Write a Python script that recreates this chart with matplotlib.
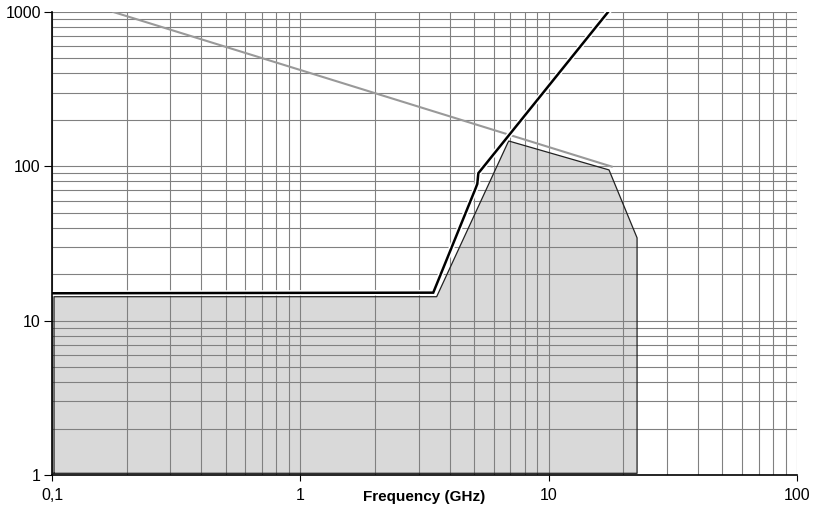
import matplotlib.pyplot as plt
import matplotlib.patheffects as pe
from matplotlib.ticker import LogLocator, NullFormatter

plt.rcParams['font.family'] = ['Liberation Sans', 'DejaVu Sans']

# Gray shaded area (outline of the region)
area_f = [0.1019, 0.1019, 3.54, 6.9, 17.5, 22.7, 22.7]
area_v = [1.026, 14.3, 14.3, 146, 94.8, 34.4, 1.026]

# Black curve
black_f = [0.1, 3.43, 5.05, 5.16, 5.21, 17.35]
black_v = [15.05, 15.19, 70.3, 76.9, 90.2, 1000]

# Gray straight line
gray_f = [0.1766, 17.95]
gray_v = [1000, 99.6]

xticks = [0.1, 1, 10, 100]
xlabels = ['0,1', '1', '10', '100']
yticks = [1, 10, 100, 1000]
ylabels = ['1', '10', '100', '1000']

fig = plt.figure(figsize=(8.16, 5.17), dpi=100)
ax = fig.add_axes([0.0637, 0.0812, 0.913, 0.8956])

ax.set_xscale('log')
ax.set_yscale('log')
ax.set_xlim(0.1, 100)
ax.set_ylim(1, 1000)

ax.fill(area_f, area_v, facecolor='#d9d9d9', edgecolor='none', zorder=0)
ax.plot(area_f + area_f[:1], area_v + area_v[:1], color='#222222', lw=0.9, zorder=1)

ax.plot(gray_f, gray_v, color='#999999', lw=1.5, zorder=2)
ax.plot(black_f, black_v, color='black', lw=1.8, zorder=3, solid_joinstyle='miter',
        path_effects=[pe.Stroke(linewidth=4, foreground='white'), pe.Normal()])

ax.set_axisbelow(True)
ax.xaxis.set_minor_locator(LogLocator(base=10, subs=range(2, 10)))
ax.yaxis.set_minor_locator(LogLocator(base=10, subs=range(2, 10)))
ax.xaxis.set_minor_formatter(NullFormatter())
ax.yaxis.set_minor_formatter(NullFormatter())
ax.grid(True, which='both', color='#808080', lw=0.8)

ax.set_xticks(xticks, xlabels)
ax.set_yticks(yticks, ylabels)
ax.tick_params(axis='both', which='major', labelsize=11.5, color='black')
ax.tick_params(axis='x', which='major', length=4, pad=5)
ax.tick_params(axis='y', which='major', length=6, pad=2)
ax.tick_params(which='minor', length=0)

for s in ['top', 'right']:
    ax.spines[s].set_visible(False)
for s in ['left', 'bottom']:
    ax.spines[s].set_color('black')
    ax.spines[s].set_linewidth(1.2)
    ax.spines[s].set_zorder(4)

ax.set_xlabel('Frequency (GHz)', fontsize=11, fontweight='bold', labelpad=-9)

fig.savefig('out.png', dpi=100)
